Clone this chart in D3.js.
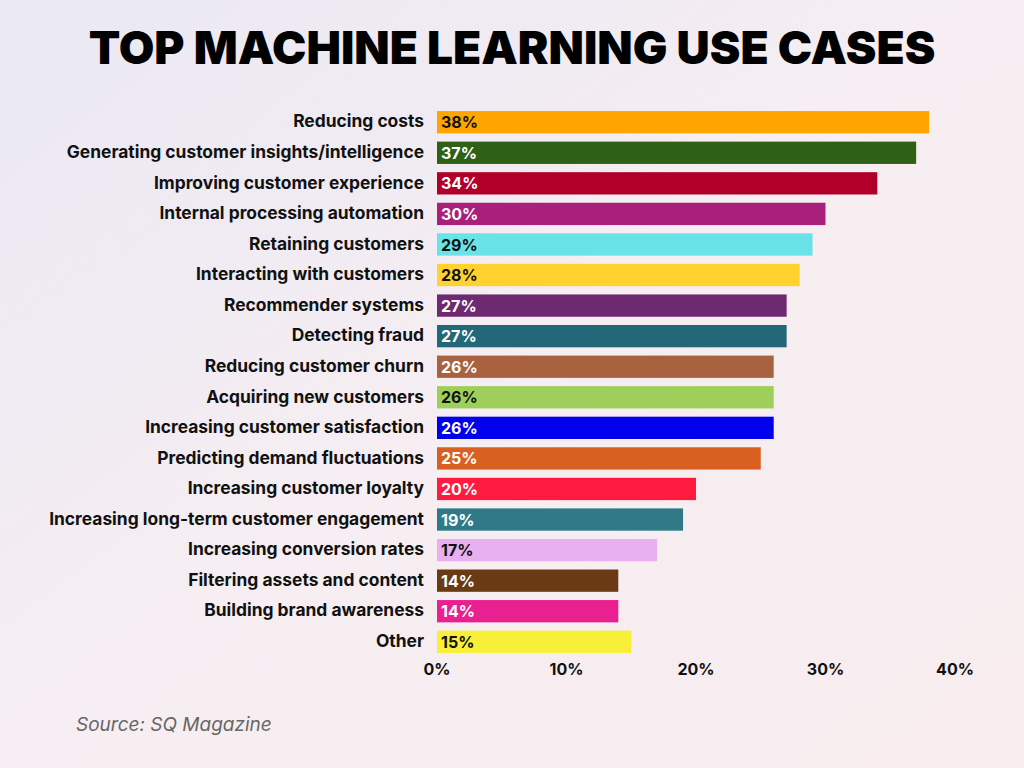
<!DOCTYPE html><html><head><meta charset="utf-8">
<script src="https://cdn.jsdelivr.net/npm/d3@7"></script>
<style>body{margin:0;}svg{display:block;}</style></head><body>
<svg id="c" width="1024" height="768"></svg>
<script>
const categories=["Reducing costs","Generating customer insights/intelligence","Improving customer experience","Internal processing automation","Retaining customers","Interacting with customers","Recommender systems","Detecting fraud","Reducing customer churn","Acquiring new customers","Increasing customer satisfaction","Predicting demand fluctuations","Increasing customer loyalty","Increasing long-term customer engagement","Increasing conversion rates","Filtering assets and content","Building brand awareness","Other"];
const values=[38,37,34,30,29,28,27,27,26,26,26,25,20,19,17,14,14,15];
const colors=["#FFA500","#2E6016","#B0002A","#A8207A","#6AE3E8","#FFD230","#6E2A70","#226878","#A86240","#9ECF5A","#0000EE","#D86020","#FF1A40","#307A88","#E8B0F0","#6A3A14","#E82090","#F8F038"];
const labelColors=["#111","#fff","#fff","#fff","#111","#111","#fff","#fff","#fff","#111","#fff","#fff","#fff","#fff","#111","#fff","#fff","#111"];
const ticks=[0,10,20,30,40];
const svg=d3.select("#c");
const defs=svg.append("defs");
const g=defs.append("linearGradient").attr("id","bg").attr("x1",0).attr("y1",0).attr("x2",1).attr("y2",1);
g.append("stop").attr("offset","0%").attr("stop-color","#E9E8F3");
g.append("stop").attr("offset","50%").attr("stop-color","#F6EEF2");
g.append("stop").attr("offset","100%").attr("stop-color","#F8ECEE");
svg.append("rect").attr("width",1024).attr("height",768).attr("fill","url(#bg)");
svg.append("text").attr("x",512).attr("y",64).attr("text-anchor","middle").attr("font-family","Inter, sans-serif").attr("font-weight",900).attr("font-size",46).attr("fill","#000").text("TOP MACHINE LEARNING USE CASES");
const x=d3.scaleLinear().domain([0,40]).range([437,955]);
const y=d3.scaleBand().domain(categories).range([108,656]).paddingInner(0.27).paddingOuter(0.1);
const rows=svg.selectAll("g.r").data(categories).join("g");
rows.append("rect").attr("x",x(0)).attr("y",d=>y(d)).attr("height",y.bandwidth()).attr("width",(d,i)=>x(values[i])-x(0)).attr("fill",(d,i)=>colors[i]);
rows.append("text").attr("x",424).attr("y",d=>y(d)+y.bandwidth()/2).attr("dy","0.3em").attr("text-anchor","end").attr("font-family","Inter, sans-serif").attr("font-weight",700).attr("font-size",17.4).attr("fill","#111").text(d=>d);
rows.append("text").attr("x",x(0)+4).attr("y",d=>y(d)+y.bandwidth()/2).attr("dy","0.38em").attr("font-family","Inter, sans-serif").attr("font-weight",700).attr("font-size",16).attr("fill",(d,i)=>labelColors[i]).text((d,i)=>values[i]+"%");
svg.selectAll("text.t").data(ticks).join("text").attr("x",d=>x(d)).attr("y",675).attr("text-anchor","middle").attr("font-family","Inter, sans-serif").attr("font-weight",700).attr("font-size",16).attr("fill","#111").text(d=>d+"%");
svg.append("text").attr("x",76).attr("y",731).attr("font-family","Inter, sans-serif").attr("font-style","italic").attr("font-size",19).attr("fill","#666").text("Source: SQ Magazine");
</script></body></html>
